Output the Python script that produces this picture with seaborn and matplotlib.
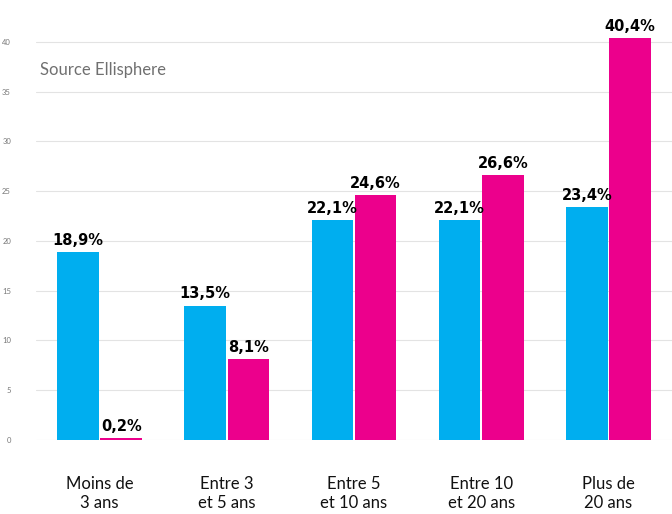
import numpy as np
from matplotlib import pyplot as plt
import seaborn as sns
import pandas as pd

categories = ["Moins de\n3 ans", "Entre 3\net 5 ans", "Entre 5\net 10 ans", "Entre 10\net 20 ans", "Plus de\n20 ans"]
serie_a = [18.9, 13.5, 22.1, 22.1, 23.4]
serie_b = [0.2, 8.1, 24.6, 26.6, 40.4]
series_names = ["A", "B"]
yticks = [0, 5, 10, 15, 20, 25, 30, 35, 40]

df = pd.DataFrame({
    "cat": categories * 2,
    "val": serie_a + serie_b,
    "serie": [series_names[0]] * 5 + [series_names[1]] * 5,
})

sns.set_style("white")
plt.rcParams['font.family'] = ['Lato', 'DejaVu Sans']

fig = plt.figure(figsize=(6.72, 5.14), dpi=100)
ax = fig.add_axes([36 / 672, 74 / 514, 1 - 36 / 672, 1 - 74 / 514])

sns.barplot(data=df, x="cat", y="val", hue="serie", order=categories,
            palette=["#00aeef", "#ec008c"], saturation=1, width=0.68,
            gap=0.04, linewidth=0, legend=False, ax=ax)

for cont in ax.containers:
    labels = [f"{v:.1f}%".replace(".", ",") for v in cont.datavalues]
    ax.bar_label(cont, labels=labels, padding=3, fontsize=10.5,
                 fontweight="heavy", family="DejaVu Sans", color="black")

ax.set_xlim(-0.5, 4.5)
ax.set_ylim(0, 44.2)
ax.set_yticks(yticks)
ax.set_yticklabels([str(t) for t in yticks], fontsize=5.5, color="#777777")
ax.tick_params(axis="y", length=0, pad=18)
ax.tick_params(axis="x", length=0, pad=26, labelsize=12, labelcolor="#111111")
ax.yaxis.grid(True, color="#e3e3e3", linewidth=0.8)
ax.set_axisbelow(True)
for s in ax.spines.values():
    s.set_visible(False)
ax.set_xlabel("")
ax.set_ylabel("")

ax.text(0.006, 0.84, "Source Ellisphere", transform=ax.transAxes,
        fontsize=12, color="#707070", va="center", ha="left")

fig.savefig("out.png", dpi=100)
